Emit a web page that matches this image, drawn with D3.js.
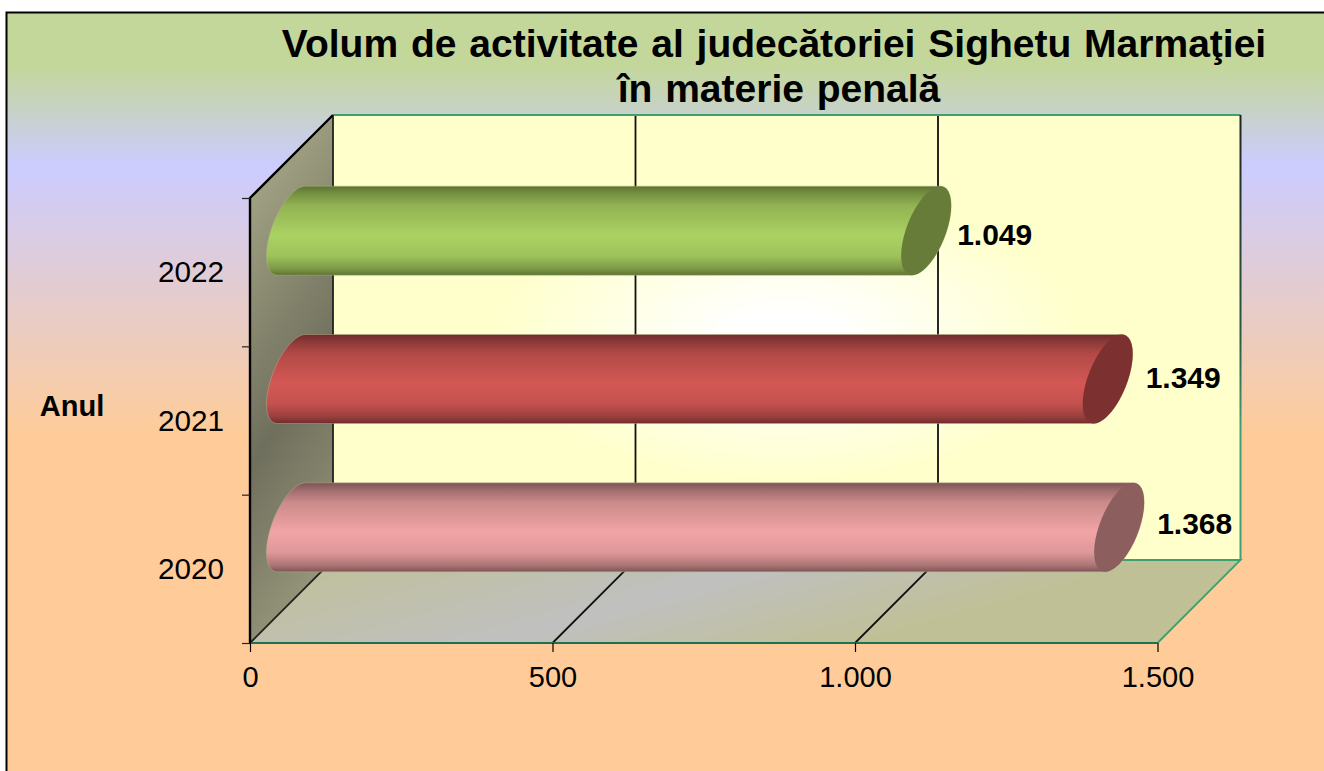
<!DOCTYPE html>
<html>
<head>
<meta charset="utf-8">
<script src="https://cdn.jsdelivr.net/npm/d3@7"></script>
<style>
  html, body { margin: 0; background: #fff; }
  svg { display: block; }
  text { font-family: "Liberation Sans", Arial, sans-serif; fill: #000; }
  .tick text { font-size: 29px; }
  .title { font-size: 39px; font-weight: bold; text-anchor: middle; word-spacing: 2px; }
  .value { font-size: 30px; font-weight: bold; }
</style>
</head>
<body>
<svg id="chart" width="1324" height="771"></svg>
<script>
const title_lines = ['Volum de activitate al judecătoriei Sighetu Marmaţiei', 'în materie penală'];
const axis_title = 'Anul';
const years = ['2022', '2021', '2020'];
const values = [1049, 1349, 1368];
const x_ticks = [0, 500, 1000, 1500];
const body_dark = ['#5c7331', '#6e2c2c', '#7c5454'];
const body_light = ['#abd163', '#d35854', '#f1a4a5'];
const cap_colors = ['#667c38', '#7d3030', '#8c5e5e'];
// the labels were nudged by hand in the original chart
const label_nudge_x = [-7, 0, 0];
const label_nudge_y = [4, -1, -3];

const depth = 83;
const x = d3.scaleLinear().domain([0, 1500]).range([250, 1157.5]);
const y = d3.scaleBand().domain(years).range([198, 643]);
const [y_top, y_bottom] = y.range();
const [x_left, x_right] = x.range();

const fmt = d3.formatLocale({ decimal: ',', thousands: '.', grouping: [3], currency: ['', ''] }).format(',d');

const svg = d3.select('#chart');
const defs = svg.append('defs');

const linear = (id, coords, stops) => {
  const g = defs.append('linearGradient').attr('id', id);
  Object.entries(coords).forEach(([k, v]) => g.attr(k, v));
  g.selectAll('stop').data(stops).join('stop')
    .attr('offset', d => d[0])
    .attr('stop-color', d => d[1]);
};

linear('bg', { x1: 0, y1: 0, x2: 0, y2: 1 }, [
  [0, '#c4d79b'], [0.07, '#c4d79b'], [0.2, '#ccccff'], [0.55, '#ffcc99'], [1, '#ffcc99'],
]);
linear('side', { gradientUnits: 'userSpaceOnUse', x1: 160, y1: 266, x2: 468, y2: 490 }, [
  [0, '#aaaa8a'], [0.5, '#6f6f5d'], [1, '#aaaa8a'],
]);
linear('floor', { x1: 0, y1: 0, x2: 1, y2: 0.3 }, [
  [0, '#c0c096'], [0.5, '#c0c0c0'], [0.85, '#c0c096'], [1, '#c0c096'],
]);
linear('edge', { x1: 0, y1: 0, x2: 0, y2: 1 }, [
  [0, '#222'], [0.5, '#2a5a45'], [0.7, '#3f9f70'], [1, '#3f9f70'],
]);
const wall = defs.append('radialGradient').attr('id', 'wall').attr('cx', 0.5).attr('cy', 0.5).attr('r', 0.5);
wall.append('stop').attr('offset', 0.12).attr('stop-color', '#ffffff');
wall.append('stop').attr('offset', 0.65).attr('stop-color', '#ffffcc');

years.forEach((yr, i) => {
  const mix = d3.interpolateRgb(body_dark[i], body_light[i]);
  linear(`body-${i}`, { x1: 0, y1: 0, x2: 0, y2: 1 }, [
    [0, body_dark[i]], [0.08, mix(0.3)], [0.22, mix(0.68)], [0.55, body_light[i]],
    [0.78, mix(0.85)], [0.93, mix(0.4)], [1, body_dark[i]],
  ]);
});

// frame
svg.append('rect')
  .attr('x', 6.5).attr('y', 12.5)
  .attr('width', 1330).attr('height', 770)
  .attr('fill', 'url(#bg)')
  .attr('stroke', '#000').attr('stroke-width', 2);

// walls
const poly = pts => `M${pts.join('L')}Z`;
const g_walls = svg.append('g');
g_walls.append('path')
  .attr('d', poly([[x_left + depth, y_top - depth], [x_right + depth, y_top - depth], [x_right + depth, y_bottom - depth], [x_left + depth, y_bottom - depth]]))
  .attr('fill', 'url(#wall)');
g_walls.append('path')
  .attr('d', poly([[x_left, y_bottom], [x_right, y_bottom], [x_right + depth, y_bottom - depth], [x_left + depth, y_bottom - depth]]))
  .attr('fill', 'url(#floor)');
g_walls.append('path')
  .attr('d', poly([[x_left, y_top], [x_left + depth, y_top - depth], [x_left + depth, y_bottom - depth], [x_left, y_bottom]]))
  .attr('fill', 'url(#side)');

// gridlines
const g_grid = svg.append('g').attr('fill', 'none');
g_grid.selectAll('path.grid').data(x_ticks.slice(1, -1)).join('path')
  .attr('class', 'grid')
  .attr('d', d => `M${x(d)},${y_bottom} L${x(d) + depth},${y_bottom - depth} V${y_top - depth}`)
  .attr('stroke', '#111').attr('stroke-width', 1.8);
g_grid.append('path')
  .attr('d', `M${x_left},${y_bottom} L${x_left + depth},${y_bottom - depth} V${y_top - depth}`)
  .attr('stroke', '#222').attr('stroke-width', 1.8);
g_grid.append('path')
  .attr('d', `M${x_left + depth},${y_bottom - depth} H${x_right + depth} L${x_right},${y_bottom}`)
  .attr('stroke', '#3f9f70').attr('stroke-width', 1.8);
g_grid.append('path')
  .attr('d', `M${x_left + depth},${y_top - depth} H${x_right + depth}`)
  .attr('stroke', '#3f9f70').attr('stroke-width', 2);
g_grid.append('rect')
  .attr('x', x_right + depth - 1).attr('y', y_top - depth)
  .attr('width', 2).attr('height', y_bottom - y_top)
  .attr('fill', 'url(#edge)');
g_grid.append('path')
  .attr('d', `M${x_left},${y_bottom} H${x_right}`)
  .attr('stroke', '#1f7050').attr('stroke-width', 2);
g_grid.append('path')
  .attr('d', `M${x_left},${y_bottom} V${y_top} L${x_left + depth},${y_top - depth}`)
  .attr('stroke', '#000').attr('stroke-width', 2.4);

// cylinders
const cap_a = 25;
const half_h = y.bandwidth() * 0.3;
const cap_b = Math.sqrt(half_h * half_h - cap_a * cap_a);
const t_top = Math.atan2(-cap_b, cap_a);
const ring = (cx, cy, t0, t1) => d3.range(0, 41).map(k => {
  const t = t0 + (t1 - t0) * k / 40;
  return [cx + cap_a * Math.cos(t), cy - cap_a * Math.cos(t) + cap_b * Math.sin(t)];
});

svg.append('g').selectAll('g.bar')
  .data(years.map((year, i) => ({ year, value: values[i], i })))
  .join('g')
  .attr('class', 'bar')
  .each(function (d) {
    const sel = d3.select(this);
    const cy = y(d.year) + y.bandwidth() / 2 - depth / 2;
    const left = x(0) + depth / 2;
    const right = x(d.value) + depth / 2;
    const outline = [
      ...ring(left, cy, t_top, t_top - Math.PI),
      ...ring(right, cy, t_top - Math.PI, t_top - 2 * Math.PI),
    ];
    sel.append('path')
      .attr('d', d3.line()(outline) + 'Z')
      .attr('fill', `url(#body-${d.i})`)
      .attr('stroke', '#b9b08c').attr('stroke-opacity', 0.6).attr('stroke-width', 0.8);
    sel.append('path')
      .attr('d', d3.line()(ring(right, cy, 0, 2 * Math.PI)) + 'Z')
      .attr('fill', cap_colors[d.i]);
    sel.append('text')
      .attr('class', 'value')
      .attr('x', right + cap_a + 13 + label_nudge_x[d.i])
      .attr('y', cy + 10 + label_nudge_y[d.i])
      .text(fmt(d.value));
  });

// axes
const x_axis = svg.append('g')
  .attr('transform', `translate(0,${y_bottom})`)
  .call(d3.axisBottom(x).tickValues(x_ticks).tickFormat(fmt).tickSize(9).tickPadding(14));
x_axis.select('.domain').remove();
x_axis.selectAll('.tick line').attr('stroke', '#000').attr('stroke-width', 1.2);
x_axis.selectAll('.tick text').attr('font-family', null).attr('font-size', null);

const y_ticks = d3.scaleLinear().domain([0, years.length]).range([y_bottom, y_top]);
const y_axis = svg.append('g')
  .attr('transform', `translate(${x_left},0)`)
  .call(d3.axisLeft(y_ticks).ticks(years.length).tickFormat('').tickSize(8));
y_axis.select('.domain').remove();
y_axis.selectAll('.tick line').attr('stroke', '#222').attr('stroke-width', 1.2);

svg.append('g').selectAll('text').data(years).join('text')
  .attr('class', 'year')
  .attr('x', 224)
  .attr('y', d => y(d) + y.bandwidth() / 2 + 10)
  .attr('text-anchor', 'end')
  .attr('font-size', 29.7)
  .text(d => d);

svg.append('text')
  .attr('x', 72).attr('y', 416)
  .attr('text-anchor', 'middle')
  .attr('font-size', 29).attr('font-weight', 'bold')
  .text(axis_title);

svg.append('g').selectAll('text').data(title_lines).join('text')
  .attr('class', 'title')
  .attr('x', (d, i) => i ? 779 : 774)
  .attr('y', (d, i) => 57 + i * 45)
  .text(d => d);
</script>
</body>
</html>
